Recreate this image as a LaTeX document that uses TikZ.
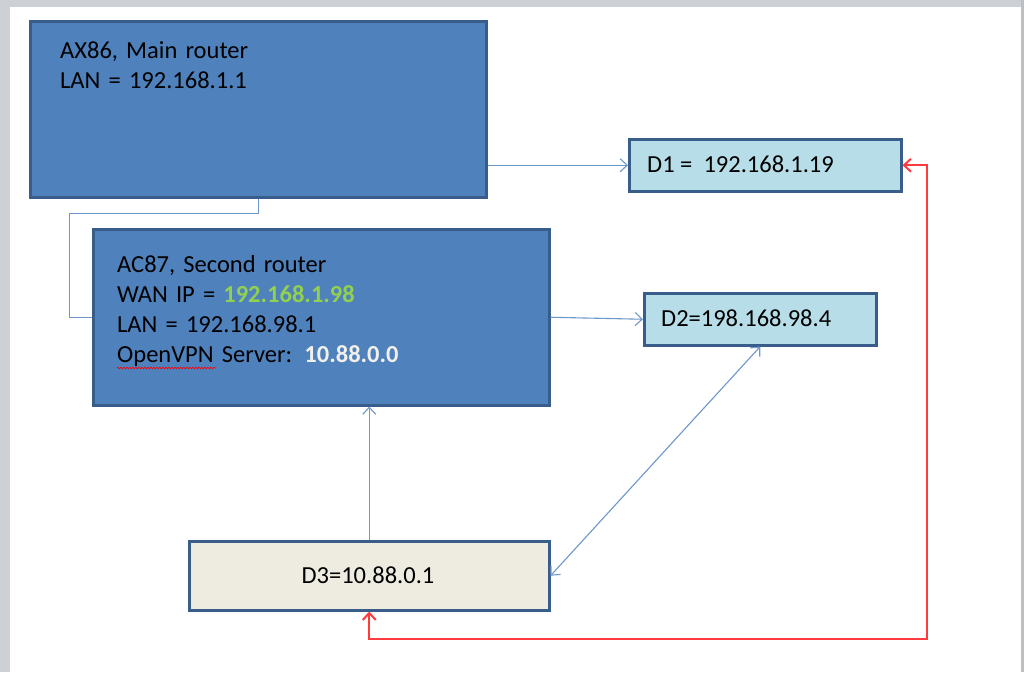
\documentclass[tikz,border=0pt]{standalone}
\usepackage{fontspec}
\setmainfont{Carlito}
\usetikzlibrary{arrows.meta,decorations.pathmorphing}
\definecolor{boxblue}{HTML}{4F81BD}
\definecolor{boxborder}{HTML}{385D8A}
\definecolor{devfill}{HTML}{B7DEE8}
\definecolor{vpnfill}{HTML}{EEECE1}
\definecolor{connblue}{HTML}{6E97CB}
\definecolor{linkred}{HTML}{FF3B3B}
\definecolor{ipgreen}{HTML}{92D050}
\definecolor{ipwhite}{HTML}{F2F0EA}
\definecolor{framegray}{HTML}{CDD0D4}
\tikzset{
  boxbase/.style={rectangle, draw=boxborder, line width=2.5pt, inner sep=0pt, anchor=north west},
  router/.style={boxbase, fill=boxblue},
  device/.style={boxbase, fill=devfill},
  vpndevice/.style={boxbase, fill=vpnfill},
  txt/.style={font={\fontsize{24.5}{30}\selectfont}, text=black, inner sep=0pt},
  blocktxt/.style={txt, anchor=base west, text width=400pt, align=left},
  conn/.style={draw=connblue, line width=1.1pt},
  barb/.tip={Straight Barb[length=7pt, width=13pt, line width=1.1pt]},
  redbarb/.tip={Straight Barb[length=7pt, width=13pt, line width=2pt]},
  redlink/.style={draw=linkred, line width=2pt}
}
\begin{document}
\begin{tikzpicture}[x=1pt, y=-1pt]
% page background and window frame
\fill[white] (0,0) rectangle (1024,672);
\fill[framegray] (0,0) rectangle (1024,7);
\fill[framegray] (0,0) rectangle (10,672);
\fill[framegray!80!gray] (1021,0) rectangle (1024,672);
\useasboundingbox (0,0) rectangle (1024,672);

% boxes
\node[router, minimum width=456pt, minimum height=176pt] (ax86) at (29,20) {};
\node[router, minimum width=456pt, minimum height=176pt] (ac87) at (92,228) {};
\node[device, minimum width=272pt, minimum height=52pt] (d1) at (628,138) {};
\node[device, minimum width=232pt, minimum height=52pt] (d2) at (643,292) {};
\node[vpndevice, minimum width=360pt, minimum height=69pt] (d3) at (188,540) {};

% texts
\node[blocktxt] (ax86t) at (60,58) {AX86, Main router\\LAN = 192.168.1.1};
\node[blocktxt] (ac87t) at (117,272) {AC87, Second router\\WAN IP = \textcolor{ipgreen}{\textbf{192.168.1.98}}\\LAN = 192.168.98.1\\OpenVPN Server: \textcolor{ipwhite}{\textbf{10.88.0.0}}};
\node[txt, anchor=base west] (d1t) at (647,172) {D1 =~~192.168.1.19};
\node[txt, anchor=base west] (d2t) at (661,326) {D2=198.168.98.4};
\node[txt, anchor=base] (d3t) at (368,583) {D3=10.88.0.1};

% spelling underline
\draw[red, line width=0.7pt, decorate, decoration={snake, amplitude=0.8pt, segment length=3pt}] (117,368) -- (216,368);

% connectors
\draw[conn] (ax86.south) -- ++(0,15) -- ++(-189,0) |- (ac87.west);
\draw[conn, -{barb}] (ax86.east |- d1.west) -- (d1.west);
\draw[conn, -{barb}] (ac87.east) -- (d2.west);
\draw[conn, -{barb}] (d3.north) -- (d3.north |- ac87.south);
\draw[conn, {barb}-{barb}] (d2.south) -- (d3.east);
\draw[redlink, {redbarb}-{redbarb}] (d1.east) -- ++(24,0) |- ([yshift=-27pt]d3.south) -- (d3.south);
\end{tikzpicture}
\end{document}
